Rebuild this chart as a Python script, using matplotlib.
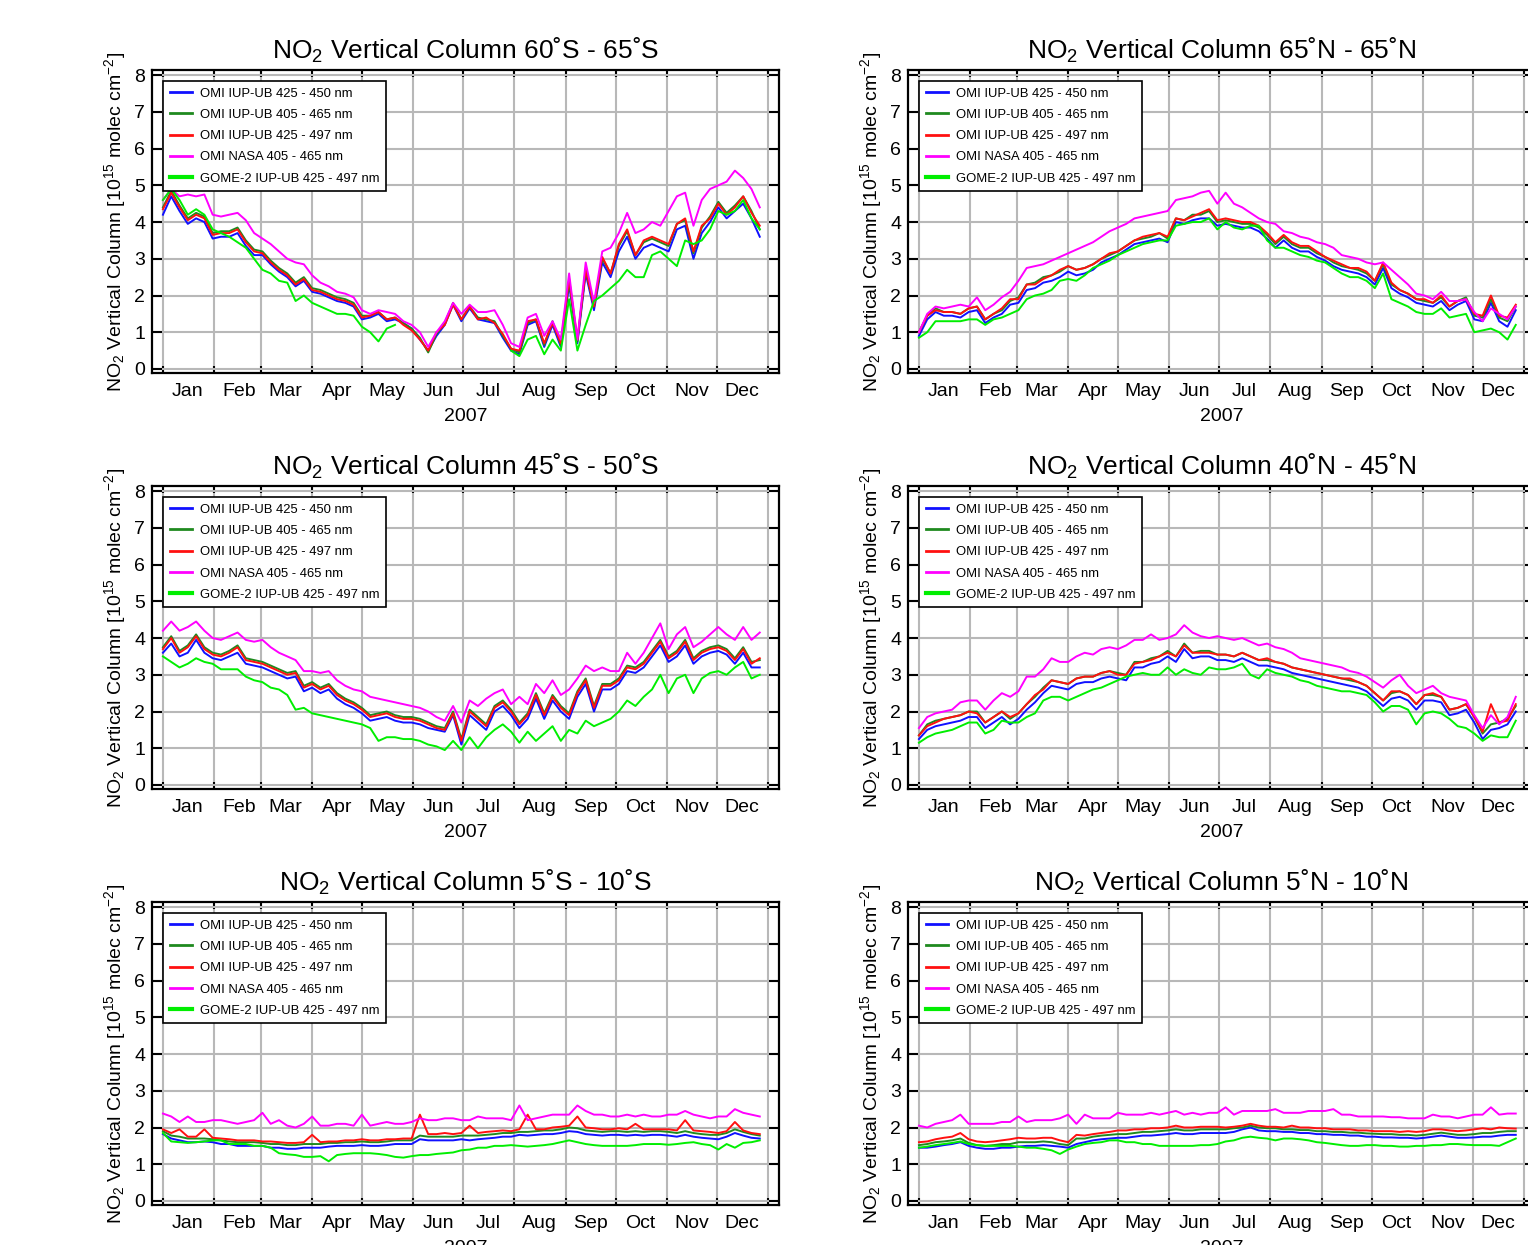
import numpy as np
import matplotlib
matplotlib.use("Agg")
import matplotlib.pyplot as plt
import matplotlib.dates as mdates

plt.rcParams['font.family'] = ['Liberation Sans', 'DejaVu Sans']
plt.rcParams['mathtext.fontset'] = 'custom'
plt.rcParams['mathtext.rm'] = 'Liberation Sans'
plt.rcParams['mathtext.it'] = 'Liberation Sans'
plt.rcParams['mathtext.default'] = 'regular'

# sample days (every 5 days from 1 Jan 2007)
days = np.arange(0, 361, 5)
dates = np.datetime64('2007-01-01') + days.astype('timedelta64[D]')

labels = ['OMI IUP-UB 425 - 450 nm', 'OMI IUP-UB 405 - 465 nm', 'OMI IUP-UB 425 - 497 nm',
          'OMI NASA 405 - 465 nm', 'GOME-2 IUP-UB 425 - 497 nm']
colors = ['#1010ff', '#1f8a1f', '#ff1010', '#ff00ff', '#00ee00']

titles = ['60˚S - 65˚S', '65˚N - 65˚N', '45˚S - 50˚S', '40˚N - 45˚N', '5˚S - 10˚S', '5˚N - 10˚N']

nan = np.nan

# ---- 60S - 65S
b1 = [4.2, 4.7, 4.3, 3.95, 4.1, 4.0, 3.55, 3.6, 3.6, 3.7, 3.35, 3.1, 3.1, 2.85, 2.65, 2.5, 2.25, 2.4, 2.1, 2.05,
      1.95, 1.85, 1.8, 1.7, 1.35, 1.4, 1.5, 1.3, 1.35, 1.25, 1.1, 0.8, 0.5, 0.9, 1.2, 1.75, 1.3, 1.65, 1.35, 1.3,
      1.25, 0.85, 0.5, 0.4, 1.2, 1.3, 0.6, 1.2, 0.6, 2.3, 0.7, 2.6, 1.6, 2.9, 2.5, 3.2, 3.6, 3.0, 3.3, 3.4,
      3.3, 3.2, 3.8, 3.9, 3.0, 3.7, 4.0, 4.4, 4.1, 4.3, 4.5, 4.1, 3.6]
g1 = [4.4, 4.85, 4.45, 4.1, 4.25, 4.15, 3.7, 3.75, 3.75, 3.85, 3.5, 3.25, 3.2, 2.95, 2.75, 2.6, 2.35, 2.5, 2.2, 2.15,
      2.05, 1.95, 1.9, 1.8, 1.45, 1.45, 1.55, 1.35, 1.4, 1.25, 1.1, 0.85, 0.45, 0.95, 1.25, 1.8, 1.35, 1.7, 1.4, 1.35,
      1.3, 0.9, 0.55, 0.45, 1.25, 1.35, 0.65, 1.3, 0.65, 2.4, 0.75, 2.7, 1.7, 3.0, 2.6, 3.35, 3.75, 3.1, 3.45, 3.55,
      3.45, 3.35, 3.95, 4.05, 3.15, 3.85, 4.15, 4.55, 4.25, 4.45, 4.7, 4.3, 3.8]
r1 = [4.35, 4.8, 4.4, 4.05, 4.2, 4.1, 3.65, 3.7, 3.7, 3.8, 3.45, 3.2, 3.15, 2.9, 2.7, 2.55, 2.3, 2.45, 2.15, 2.1,
      2.0, 1.9, 1.85, 1.75, 1.4, 1.45, 1.55, 1.35, 1.4, 1.2, 1.05, 0.8, 0.5, 1.0, 1.2, 1.75, 1.35, 1.7, 1.35, 1.4,
      1.25, 0.95, 0.55, 0.5, 1.3, 1.35, 0.7, 1.25, 0.7, 2.45, 0.8, 2.7, 1.7, 3.05, 2.6, 3.4, 3.8, 3.1, 3.5, 3.6,
      3.5, 3.4, 3.95, 4.1, 3.2, 3.9, 4.1, 4.5, 4.2, 4.4, 4.7, 4.25, 3.9]
m1 = [4.6, 4.9, 4.7, 4.75, 4.7, 4.75, 4.2, 4.15, 4.2, 4.25, 4.05, 3.7, 3.55, 3.4, 3.2, 3.0, 2.9, 2.85, 2.55, 2.35,
      2.25, 2.1, 2.05, 1.95, 1.6, 1.5, 1.6, 1.55, 1.5, 1.3, 1.2, 1.0, 0.6, 1.0, 1.3, 1.8, 1.5, 1.75, 1.55, 1.55,
      1.6, 1.2, 0.7, 0.6, 1.4, 1.5, 0.9, 1.3, 0.8, 2.6, 0.8, 2.9, 1.8, 3.2, 3.3, 3.7, 4.25, 3.7, 3.8, 4.0,
      3.9, 4.3, 4.7, 4.8, 3.9, 4.6, 4.9, 5.0, 5.1, 5.4, 5.2, 4.9, 4.4]
G1 = [4.6, 4.9, 4.6, 4.2, 4.35, 4.2, 3.8, 3.7, 3.6, 3.45, 3.3, 3.0, 2.7, 2.6, 2.4, 2.35, 1.85, 2.0, 1.8, 1.7,
      1.6, 1.5, 1.5, 1.45, 1.15, 1.0, 0.75, 1.1, 1.2, nan, nan, nan, nan, nan, nan, nan, nan, nan, nan, nan,
      nan, nan, 0.5, 0.35, 0.8, 0.9, 0.4, 0.8, 0.5, 1.9, 0.5, 1.2, 1.85, 2.0, 2.2, 2.4, 2.7, 2.5, 2.5, 3.1,
      3.2, 3.0, 2.8, 3.5, 3.4, 3.5, 3.8, 4.3, 4.2, 4.3, 4.6, 4.1, 3.8]

# ---- 65N - 65N
b2 = [0.9, 1.35, 1.55, 1.45, 1.45, 1.4, 1.55, 1.6, 1.25, 1.4, 1.5, 1.75, 1.8, 2.15, 2.2, 2.35, 2.4, 2.5, 2.65, 2.55,
      2.6, 2.7, 2.9, 3.0, 3.1, 3.25, 3.4, 3.45, 3.5, 3.55, 3.45, 4.0, 3.95, 4.05, 4.1, 4.1, 3.9, 3.95, 3.9, 3.85,
      3.85, 3.75, 3.55, 3.3, 3.5, 3.3, 3.2, 3.2, 3.05, 2.95, 2.8, 2.7, 2.65, 2.6, 2.5, 2.3, 2.75, 2.2, 2.05, 1.95,
      1.8, 1.75, 1.7, 1.85, 1.6, 1.75, 1.85, 1.35, 1.3, 1.8, 1.3, 1.15, 1.6]
g2 = [1.0, 1.45, 1.65, 1.55, 1.55, 1.5, 1.65, 1.7, 1.35, 1.5, 1.6, 1.85, 1.95, 2.3, 2.35, 2.5, 2.55, 2.65, 2.8, 2.7,
      2.75, 2.85, 3.0, 3.1, 3.2, 3.35, 3.5, 3.55, 3.6, 3.7, 3.55, 4.1, 4.05, 4.2, 4.2, 4.3, 4.0, 4.05, 4.0, 3.95,
      3.95, 3.85, 3.65, 3.4, 3.6, 3.4, 3.3, 3.3, 3.15, 3.05, 2.9, 2.8, 2.75, 2.7, 2.6, 2.4, 2.85, 2.3, 2.15, 2.05,
      1.9, 1.85, 1.8, 1.95, 1.7, 1.85, 1.95, 1.45, 1.4, 1.9, 1.4, 1.3, 1.7]
r2 = [1.0, 1.45, 1.6, 1.55, 1.55, 1.5, 1.65, 1.7, 1.35, 1.5, 1.65, 1.9, 1.9, 2.3, 2.3, 2.45, 2.55, 2.7, 2.8, 2.7,
      2.75, 2.85, 3.0, 3.15, 3.2, 3.35, 3.5, 3.6, 3.65, 3.7, 3.6, 4.1, 4.05, 4.15, 4.25, 4.35, 4.05, 4.1, 4.05, 4.0,
      4.0, 3.9, 3.7, 3.45, 3.65, 3.45, 3.35, 3.35, 3.2, 3.05, 2.95, 2.85, 2.75, 2.75, 2.65, 2.4, 2.9, 2.35, 2.15, 2.05,
      1.9, 1.9, 1.8, 2.0, 1.7, 1.85, 1.9, 1.5, 1.45, 2.0, 1.45, 1.4, 1.75]
m2 = [1.0, 1.5, 1.7, 1.65, 1.7, 1.75, 1.7, 1.95, 1.6, 1.75, 1.95, 2.1, 2.4, 2.75, 2.8, 2.85, 2.95, 3.05, 3.15, 3.25,
      3.35, 3.45, 3.6, 3.75, 3.85, 3.95, 4.1, 4.15, 4.2, 4.25, 4.3, 4.6, 4.65, 4.7, 4.8, 4.85, 4.5, 4.8, 4.5, 4.4,
      4.25, 4.1, 4.0, 3.95, 3.75, 3.7, 3.6, 3.55, 3.45, 3.4, 3.3, 3.1, 3.05, 3.0, 2.9, 2.85, 2.9, 2.7, 2.5, 2.3,
      2.05, 2.0, 1.9, 2.1, 1.85, 1.85, 1.9, 1.55, 1.3, 1.65, 1.5, 1.35, 1.7]
G2 = [0.85, 1.0, 1.3, 1.3, 1.3, 1.3, 1.35, 1.35, 1.2, 1.35, 1.4, 1.5, 1.6, 1.9, 2.0, 2.05, 2.15, 2.4, 2.45, 2.4,
      2.55, 2.75, 2.85, 2.95, 3.1, 3.2, 3.3, 3.4, 3.45, 3.5, 3.5, 3.9, 3.95, 4.0, 4.0, 4.1, 3.8, 4.0, 3.85, 3.8,
      3.9, 3.9, 3.5, 3.3, 3.3, 3.2, 3.1, 3.05, 2.95, 2.9, 2.75, 2.6, 2.5, 2.5, 2.4, 2.2, 2.6, 1.9, 1.8, 1.7,
      1.55, 1.5, 1.5, 1.65, 1.4, 1.45, 1.5, 1.0, 1.05, 1.1, 1.0, 0.8, 1.2]

# ---- 45S - 50S
b3 = [3.6, 3.85, 3.5, 3.6, 3.95, 3.6, 3.45, 3.4, 3.5, 3.6, 3.3, 3.25, 3.2, 3.1, 3.0, 2.9, 2.95, 2.55, 2.65, 2.5,
      2.6, 2.35, 2.2, 2.1, 1.95, 1.75, 1.8, 1.85, 1.75, 1.7, 1.7, 1.65, 1.55, 1.5, 1.45, 1.9, 1.1, 1.9, 1.7, 1.5,
      2.0, 2.15, 1.9, 1.55, 1.8, 2.35, 1.8, 2.3, 2.0, 1.8, 2.4, 2.75, 2.0, 2.6, 2.6, 2.75, 3.1, 3.05, 3.2, 3.5,
      3.8, 3.35, 3.5, 3.8, 3.3, 3.5, 3.6, 3.65, 3.55, 3.3, 3.6, 3.2, 3.2]
g3 = [3.75, 4.05, 3.65, 3.8, 4.1, 3.75, 3.6, 3.55, 3.65, 3.8, 3.45, 3.4, 3.35, 3.25, 3.15, 3.05, 3.1, 2.7, 2.8, 2.65,
      2.75, 2.5, 2.35, 2.25, 2.1, 1.9, 1.95, 2.0, 1.9, 1.85, 1.85, 1.8, 1.7, 1.6, 1.55, 2.0, 1.25, 2.05, 1.85, 1.65,
      2.15, 2.3, 2.05, 1.7, 1.95, 2.5, 1.95, 2.45, 2.15, 1.95, 2.55, 2.9, 2.15, 2.75, 2.75, 2.9, 3.25, 3.2, 3.35, 3.65,
      3.95, 3.5, 3.65, 3.95, 3.45, 3.65, 3.75, 3.8, 3.7, 3.45, 3.75, 3.35, 3.4]
r3 = [3.7, 4.0, 3.6, 3.75, 4.05, 3.7, 3.55, 3.5, 3.6, 3.75, 3.4, 3.35, 3.3, 3.2, 3.1, 3.0, 3.05, 2.65, 2.75, 2.6,
      2.7, 2.45, 2.3, 2.2, 2.05, 1.85, 1.9, 1.95, 1.85, 1.8, 1.8, 1.75, 1.65, 1.55, 1.5, 1.95, 1.2, 2.0, 1.8, 1.6,
      2.1, 2.25, 2.0, 1.65, 1.9, 2.45, 1.9, 2.4, 2.1, 1.9, 2.5, 2.85, 2.1, 2.7, 2.7, 2.85, 3.2, 3.15, 3.3, 3.6,
      3.9, 3.45, 3.6, 3.9, 3.4, 3.6, 3.7, 3.75, 3.65, 3.4, 3.7, 3.3, 3.45]
m3 = [4.2, 4.45, 4.2, 4.3, 4.45, 4.2, 4.0, 3.95, 4.05, 4.15, 3.95, 3.9, 3.95, 3.75, 3.6, 3.5, 3.4, 3.1, 3.1, 3.05,
      3.1, 2.85, 2.7, 2.6, 2.55, 2.4, 2.35, 2.3, 2.25, 2.2, 2.15, 2.1, 2.0, 1.85, 1.75, 2.15, 1.7, 2.3, 2.15, 2.35,
      2.5, 2.6, 2.2, 2.4, 2.2, 2.75, 2.5, 2.85, 2.45, 2.6, 2.9, 3.25, 3.1, 3.2, 3.1, 3.1, 3.6, 3.3, 3.6, 4.0,
      4.4, 3.7, 4.1, 4.3, 3.75, 3.9, 4.1, 4.3, 4.1, 3.95, 4.3, 3.95, 4.15]
G3 = [3.5, 3.35, 3.2, 3.3, 3.45, 3.35, 3.3, 3.15, 3.15, 3.15, 2.95, 2.85, 2.8, 2.65, 2.6, 2.45, 2.05, 2.1, 1.95, 1.9,
      1.85, 1.8, 1.75, 1.7, 1.65, 1.55, 1.2, 1.3, 1.3, 1.25, 1.25, 1.2, 1.1, 1.05, 0.95, 1.2, 0.95, 1.3, 1.0, 1.3,
      1.5, 1.65, 1.45, 1.15, 1.45, 1.2, 1.4, 1.6, 1.2, 1.5, 1.4, 1.75, 1.6, 1.7, 1.8, 2.0, 2.3, 2.15, 2.4, 2.6,
      3.0, 2.5, 2.9, 3.0, 2.5, 2.9, 3.05, 3.1, 3.0, 3.2, 3.35, 2.9, 3.0]

# ---- 40N - 45N
b4 = [1.25, 1.5, 1.6, 1.65, 1.7, 1.75, 1.85, 1.85, 1.55, 1.7, 1.85, 1.65, 1.8, 2.05, 2.25, 2.5, 2.7, 2.65, 2.6, 2.75,
      2.8, 2.8, 2.9, 2.95, 2.9, 2.85, 3.2, 3.2, 3.3, 3.35, 3.5, 3.35, 3.7, 3.45, 3.5, 3.5, 3.4, 3.4, 3.35, 3.45,
      3.35, 3.25, 3.25, 3.2, 3.15, 3.05, 3.0, 2.95, 2.9, 2.85, 2.8, 2.75, 2.7, 2.65, 2.55, 2.35, 2.15, 2.35, 2.4, 2.3,
      2.05, 2.3, 2.3, 2.25, 1.9, 1.95, 2.05, 1.7, 1.25, 1.5, 1.55, 1.65, 2.0]
g4 = [1.35, 1.65, 1.75, 1.8, 1.85, 1.9, 2.0, 2.0, 1.7, 1.85, 2.0, 1.8, 1.95, 2.2, 2.4, 2.65, 2.85, 2.8, 2.75, 2.9,
      2.95, 2.95, 3.05, 3.1, 3.05, 3.0, 3.35, 3.35, 3.45, 3.5, 3.65, 3.5, 3.85, 3.6, 3.65, 3.65, 3.55, 3.55, 3.5, 3.6,
      3.5, 3.4, 3.4, 3.35, 3.3, 3.2, 3.15, 3.1, 3.05, 3.0, 2.95, 2.9, 2.85, 2.8, 2.7, 2.5, 2.3, 2.5, 2.55, 2.45,
      2.2, 2.45, 2.45, 2.4, 2.05, 2.1, 2.2, 1.85, 1.4, 1.65, 1.7, 1.8, 2.15]
r4 = [1.35, 1.6, 1.7, 1.8, 1.85, 1.9, 2.0, 1.95, 1.7, 1.85, 2.0, 1.85, 1.95, 2.2, 2.45, 2.6, 2.85, 2.8, 2.75, 2.9,
      2.95, 2.95, 3.05, 3.1, 3.0, 3.0, 3.3, 3.35, 3.4, 3.5, 3.6, 3.5, 3.8, 3.6, 3.6, 3.6, 3.55, 3.55, 3.5, 3.6,
      3.5, 3.4, 3.45, 3.35, 3.3, 3.2, 3.15, 3.1, 3.05, 3.0, 2.95, 2.9, 2.9, 2.8, 2.7, 2.5, 2.3, 2.55, 2.55, 2.45,
      2.2, 2.45, 2.5, 2.4, 2.05, 2.1, 2.2, 1.85, 1.45, 2.2, 1.7, 1.75, 2.2]
m4 = [1.55, 1.85, 1.95, 2.0, 2.05, 2.25, 2.3, 2.3, 2.05, 2.3, 2.5, 2.4, 2.55, 2.95, 2.95, 3.15, 3.45, 3.35, 3.35, 3.5,
      3.6, 3.55, 3.7, 3.75, 3.7, 3.8, 3.95, 3.95, 4.1, 3.95, 4.0, 4.1, 4.35, 4.15, 4.05, 4.0, 4.05, 4.0, 3.95, 4.0,
      3.9, 3.8, 3.85, 3.75, 3.7, 3.6, 3.45, 3.4, 3.35, 3.3, 3.25, 3.2, 3.1, 3.05, 2.95, 2.8, 2.65, 2.85, 3.0, 2.7,
      2.5, 2.6, 2.7, 2.5, 2.4, 2.35, 2.3, 1.9, 1.55, 1.9, 1.65, 1.85, 2.4]
G4 = [1.15, 1.3, 1.4, 1.45, 1.5, 1.6, 1.7, 1.7, 1.4, 1.5, 1.75, 1.7, 1.7, 1.85, 1.95, 2.3, 2.4, 2.4, 2.3, 2.4,
      2.5, 2.6, 2.65, 2.75, 2.85, 2.95, 3.0, 3.05, 3.0, 3.0, 3.2, 3.0, 3.15, 3.05, 3.0, 3.2, 3.15, 3.15, 3.2, 3.3,
      3.0, 2.9, 3.15, 3.05, 3.0, 2.95, 2.85, 2.8, 2.7, 2.65, 2.6, 2.55, 2.55, 2.5, 2.45, 2.25, 2.0, 2.15, 2.15, 2.05,
      1.65, 1.95, 2.0, 1.95, 1.8, 1.6, 1.55, 1.4, 1.2, 1.35, 1.3, 1.3, 1.75]

# ---- 5S - 10S
b5 = [1.82, 1.7, 1.65, 1.6, 1.6, 1.62, 1.6, 1.55, 1.55, 1.5, 1.5, 1.5, 1.5, 1.45, 1.45, 1.42, 1.42, 1.45, 1.45, 1.45,
      1.48, 1.5, 1.5, 1.5, 1.52, 1.5, 1.5, 1.52, 1.55, 1.55, 1.55, 1.68, 1.65, 1.65, 1.65, 1.65, 1.68, 1.65, 1.68, 1.7,
      1.72, 1.75, 1.75, 1.8, 1.78, 1.8, 1.82, 1.82, 1.85, 1.9, 1.88, 1.82, 1.8, 1.78, 1.8, 1.8, 1.78, 1.8, 1.78, 1.8,
      1.8, 1.78, 1.75, 1.8, 1.75, 1.72, 1.7, 1.68, 1.75, 1.85, 1.78, 1.72, 1.7]
g5 = [1.9, 1.78, 1.75, 1.7, 1.7, 1.7, 1.68, 1.65, 1.62, 1.6, 1.6, 1.6, 1.58, 1.55, 1.55, 1.52, 1.52, 1.55, 1.55, 1.55,
      1.58, 1.58, 1.6, 1.6, 1.62, 1.6, 1.6, 1.62, 1.65, 1.65, 1.65, 1.78, 1.75, 1.75, 1.75, 1.75, 1.78, 1.78, 1.78, 1.8,
      1.82, 1.85, 1.85, 1.88, 1.88, 1.9, 1.92, 1.92, 1.95, 2.0, 1.98, 1.92, 1.9, 1.88, 1.9, 1.9, 1.88, 1.9, 1.88, 1.9,
      1.9, 1.88, 1.85, 1.9, 1.85, 1.82, 1.8, 1.8, 1.85, 1.95, 1.88, 1.82, 1.78]
r5 = [1.95, 1.85, 1.95, 1.75, 1.75, 1.95, 1.72, 1.7, 1.68, 1.65, 1.65, 1.65, 1.62, 1.62, 1.6, 1.58, 1.58, 1.6, 1.8, 1.6,
      1.62, 1.62, 1.65, 1.65, 1.68, 1.65, 1.65, 1.68, 1.68, 1.7, 1.7, 2.35, 1.82, 1.82, 1.85, 1.82, 1.85, 2.05, 1.85, 1.88,
      1.9, 1.92, 1.9, 1.95, 2.35, 1.95, 1.95, 2.0, 2.02, 2.05, 2.3, 2.0, 1.98, 1.95, 1.95, 1.98, 1.95, 2.1, 1.95, 1.95,
      1.95, 1.95, 1.92, 2.2, 1.92, 1.9, 1.88, 1.85, 1.9, 2.15, 1.92, 1.85, 1.82]
m5 = [2.38, 2.3, 2.15, 2.3, 2.15, 2.15, 2.2, 2.2, 2.15, 2.1, 2.15, 2.2, 2.4, 2.1, 2.2, 2.05, 2.0, 2.1, 2.3, 2.05,
      2.05, 2.1, 2.1, 2.05, 2.35, 2.05, 2.1, 2.15, 2.1, 2.1, 2.15, 2.25, 2.2, 2.2, 2.25, 2.25, 2.2, 2.2, 2.3, 2.25,
      2.25, 2.25, 2.2, 2.6, 2.2, 2.25, 2.3, 2.35, 2.35, 2.35, 2.6, 2.45, 2.35, 2.35, 2.3, 2.3, 2.35, 2.3, 2.35, 2.3,
      2.3, 2.35, 2.35, 2.45, 2.35, 2.3, 2.25, 2.3, 2.3, 2.5, 2.4, 2.35, 2.3]
G5 = [1.85, 1.62, 1.6, 1.58, 1.6, 1.62, 1.65, 1.65, 1.55, 1.55, 1.55, 1.5, 1.5, 1.45, 1.3, 1.27, 1.25, 1.2, 1.2, 1.22,
      1.08, 1.25, 1.28, 1.3, 1.3, 1.3, 1.28, 1.25, 1.2, 1.18, 1.22, 1.25, 1.25, 1.28, 1.3, 1.32, 1.38, 1.4, 1.45, 1.45,
      1.5, 1.5, 1.52, 1.5, 1.48, 1.5, 1.52, 1.55, 1.6, 1.65, 1.6, 1.55, 1.52, 1.5, 1.5, 1.5, 1.5, 1.52, 1.55, 1.55,
      1.55, 1.53, 1.55, 1.58, 1.6, 1.55, 1.52, 1.4, 1.55, 1.45, 1.58, 1.6, 1.65]

# ---- 5N - 10N
b6 = [1.45, 1.45, 1.48, 1.52, 1.55, 1.6, 1.5, 1.45, 1.42, 1.42, 1.45, 1.45, 1.48, 1.5, 1.5, 1.52, 1.5, 1.48, 1.45, 1.55,
      1.6, 1.65, 1.68, 1.7, 1.72, 1.72, 1.75, 1.78, 1.78, 1.8, 1.82, 1.85, 1.82, 1.82, 1.85, 1.85, 1.85, 1.85, 1.88, 1.95,
      2.0, 1.92, 1.9, 1.9, 1.88, 1.88, 1.85, 1.85, 1.82, 1.82, 1.8, 1.8, 1.78, 1.78, 1.75, 1.75, 1.73, 1.73, 1.72, 1.72,
      1.7, 1.72, 1.75, 1.78, 1.75, 1.72, 1.72, 1.73, 1.75, 1.75, 1.78, 1.8, 1.8]
g6 = [1.52, 1.55, 1.6, 1.62, 1.65, 1.7, 1.58, 1.52, 1.5, 1.52, 1.55, 1.55, 1.6, 1.6, 1.6, 1.62, 1.6, 1.55, 1.52, 1.7,
      1.7, 1.75, 1.78, 1.8, 1.82, 1.82, 1.85, 1.88, 1.88, 1.9, 1.92, 1.95, 1.92, 1.92, 1.95, 1.95, 1.95, 1.95, 1.98, 2.0,
      2.05, 2.0, 1.98, 1.98, 1.95, 1.95, 1.93, 1.93, 1.9, 1.9, 1.88, 1.88, 1.86, 1.86, 1.84, 1.83, 1.82, 1.82, 1.8, 1.8,
      1.78, 1.8, 1.83, 1.86, 1.83, 1.8, 1.8, 1.82, 1.85, 1.85, 1.88, 1.9, 1.9]
r6 = [1.6, 1.62, 1.68, 1.72, 1.75, 1.85, 1.68, 1.62, 1.6, 1.62, 1.65, 1.68, 1.72, 1.7, 1.7, 1.72, 1.72, 1.65, 1.6, 1.8,
      1.78, 1.82, 1.85, 1.88, 1.92, 1.92, 1.95, 1.95, 1.98, 1.98, 2.0, 2.05, 2.0, 2.0, 2.02, 2.02, 2.02, 2.0, 2.02, 2.05,
      2.1, 2.05, 2.02, 2.02, 2.0, 2.05, 2.0, 2.0, 1.98, 1.98, 1.95, 1.95, 1.95, 1.92, 1.92, 1.9, 1.9, 1.9, 1.88, 1.9,
      1.88, 1.9, 1.95, 1.95, 1.92, 1.9, 1.92, 1.95, 1.98, 1.95, 2.0, 1.98, 1.97]
m6 = [2.05, 2.0, 2.1, 2.15, 2.2, 2.35, 2.1, 2.1, 2.1, 2.1, 2.15, 2.15, 2.3, 2.15, 2.2, 2.2, 2.2, 2.25, 2.35, 2.1,
      2.35, 2.25, 2.25, 2.25, 2.4, 2.35, 2.35, 2.35, 2.4, 2.35, 2.4, 2.45, 2.35, 2.4, 2.35, 2.4, 2.4, 2.55, 2.35, 2.45,
      2.45, 2.45, 2.45, 2.5, 2.4, 2.4, 2.4, 2.45, 2.45, 2.45, 2.5, 2.35, 2.35, 2.3, 2.3, 2.3, 2.3, 2.28, 2.28, 2.25,
      2.25, 2.25, 2.35, 2.3, 2.3, 2.25, 2.3, 2.35, 2.35, 2.55, 2.35, 2.38, 2.38]
G6 = [1.45, 1.48, 1.52, 1.55, 1.58, 1.62, 1.55, 1.52, 1.5, 1.5, 1.5, 1.5, 1.48, 1.45, 1.45, 1.42, 1.38, 1.28, 1.4, 1.48,
      1.55, 1.58, 1.6, 1.65, 1.65, 1.6, 1.6, 1.55, 1.55, 1.5, 1.5, 1.5, 1.5, 1.5, 1.52, 1.52, 1.55, 1.62, 1.65, 1.72,
      1.75, 1.72, 1.7, 1.65, 1.7, 1.7, 1.68, 1.65, 1.6, 1.58, 1.55, 1.52, 1.5, 1.5, 1.52, 1.52, 1.5, 1.5, 1.48, 1.48,
      1.5, 1.5, 1.52, 1.52, 1.55, 1.55, 1.53, 1.52, 1.52, 1.52, 1.5, 1.6, 1.7]

panel_data = [
    [b1, g1, r1, m1, G1],
    [b2, g2, r2, m2, G2],
    [b3, g3, r3, m3, G3],
    [b4, g4, r4, m4, G4],
    [b5, g5, r5, m5, G5],
    [b6, g6, r6, m6, G6],
]

W, H = 1528, 1245
fig = plt.figure(figsize=(W / 100, H / 100), dpi=100)

lefts = [152, 908]
tops = [70, 486, 902]
aw, ah = 627, 303

t0 = mdates.date2num(np.datetime64('2007-01-01'))

for k, series in enumerate(panel_data):
    row, col = divmod(k, 2)
    ax = fig.add_axes([lefts[col] / W, 1 - (tops[row] + ah) / H, aw / W, ah / H])

    for vals, c, lab in zip(series, colors, labels):
        ax.plot(dates, vals, color=c, lw=1.4, label=lab, zorder=3)

    ax.set_xlim(t0 - 6.6, t0 + 371.6)
    ax.set_ylim(-0.11, 8.14)
    ax.set_yticks(range(0, 9))

    ax.xaxis.set_major_locator(mdates.MonthLocator())
    ax.xaxis.set_major_formatter(plt.NullFormatter())
    ax.xaxis.set_minor_locator(mdates.MonthLocator(bymonthday=16))
    ax.xaxis.set_minor_formatter(mdates.DateFormatter('%b'))

    ax.grid(True, which='major', color='#b8b8b8', lw=1.5, zorder=1)
    ax.set_axisbelow(True)
    for s in ax.spines.values():
        s.set_linewidth(1.6)

    ax.tick_params(axis='both', which='major', direction='in', top=True, right=True,
                   width=1.5, labelsize=14)
    ax.tick_params(axis='y', which='major', length=7, pad=5)
    ax.tick_params(axis='x', which='major', length=5)
    ax.tick_params(axis='x', which='minor', length=0, pad=7, labelsize=14)

    ax.set_title('NO$_2$ Vertical Column ' + titles[k], fontsize=19, pad=8)
    ax.set_ylabel('NO$_2$ Vertical Column [10$^{15}$ molec cm$^{-2}$]', fontsize=14, labelpad=4)
    ax.set_xlabel('2007', fontsize=14, labelpad=6)

    leg = ax.legend(loc='upper left', bbox_to_anchor=(11 / aw, 1 - 11 / ah), borderaxespad=0,
                    fontsize=9.4, fancybox=False, framealpha=1, edgecolor='black',
                    handlelength=1.7, handletextpad=0.6, labelspacing=0.7, borderpad=0.5)
    leg.get_frame().set_linewidth(1.2)
    for ln in leg.get_lines():
        ln.set_linewidth(2)
    leg.get_lines()[-1].set_linewidth(3)

fig.savefig('out.png', dpi=100)
